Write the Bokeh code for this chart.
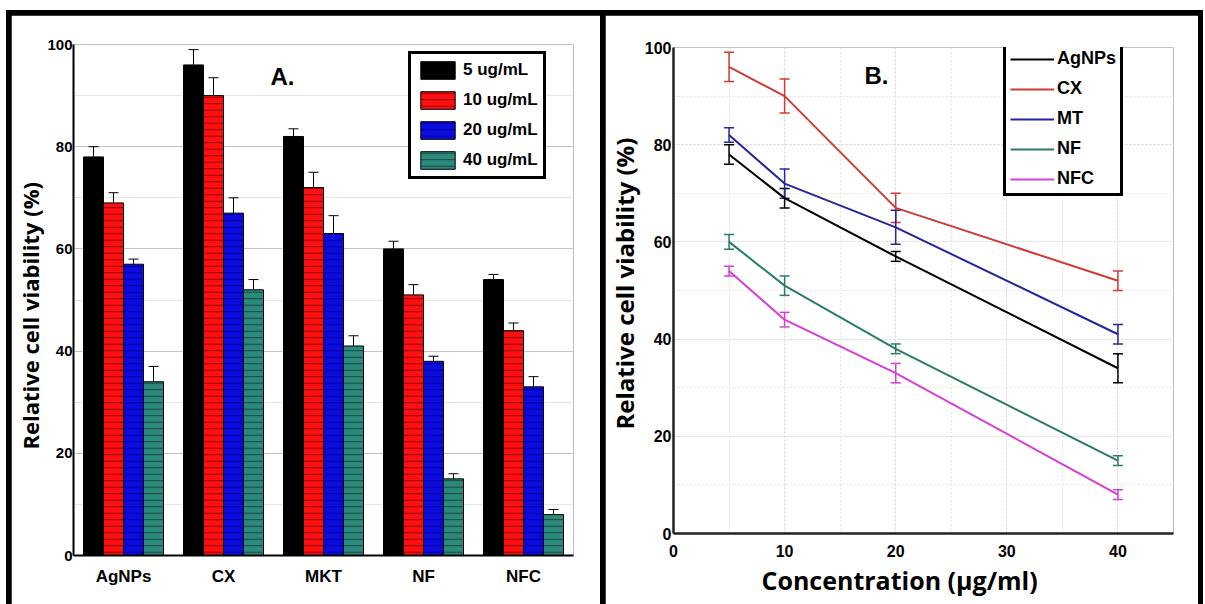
from bokeh.plotting import figure
from bokeh.models import (ColumnDataSource, Whisker, Label, Title, SingleIntervalTicker,
                          FactorRange, Range1d)
from bokeh.transform import dodge
from bokeh.layouts import row, column
from bokeh.embed import file_html
from bokeh.resources import INLINE

# ---------------- data: panel A ----------------
materials = ["AgNPs", "CX", "MKT", "NF", "NFC"]
dose_labels = ["5 ug/mL", "10 ug/mL", "20 ug/mL", "40 ug/mL"]
v5 = [78, 96, 82, 60, 54]
v10 = [69, 90, 72, 51, 44]
v20 = [57, 67, 63, 38, 33]
v40 = [34, 52, 41, 15, 8]
e5 = [2, 3, 1.5, 1.5, 1]
e10 = [2, 3.5, 3, 2, 1.5]
e20 = [1, 3, 3.5, 1, 2]
e40 = [3, 2, 2, 1, 1]

# ---------------- data: panel B ----------------
conc = [5, 10, 20, 40]
series_names = ["AgNPs", "CX", "MT", "NF", "NFC"]
agnps = [78, 69, 57, 34]
cx = [96, 90, 67, 52]
mt = [82, 72, 63, 41]
nf = [60, 51, 38, 15]
nfc = [54, 44, 33, 8]
agnps_err = [2, 2, 1, 3]
cx_err = [3, 3.5, 3, 2]
mt_err = [1.5, 3, 3.5, 2]
nf_err = [1.5, 2, 1, 1]
nfc_err = [1, 1.5, 2, 1]

y_title = "Relative cell viability (%)"
x_title = "Concentration (\u03bcg/ml)"

TICK_FONT = "'Liberation Sans', Arial, sans-serif"
TITLE_FONT = "'Open Sans', 'DejaVu Sans', sans-serif"


def style_axis(ax, size, standoff):
    ax.axis_line_color = "black"
    ax.major_tick_line_color = None
    ax.minor_tick_line_color = None
    ax.major_tick_out = 0
    ax.major_tick_in = 0
    ax.minor_tick_out = 0
    ax.minor_tick_in = 0
    ax.major_label_text_font = TICK_FONT
    ax.major_label_text_font_style = "bold"
    ax.major_label_text_font_size = size
    ax.major_label_text_color = "black"
    ax.major_label_standoff = standoff


def side_title(text, size, align, offset, standoff):
    return Title(text=text, align=align, offset=offset, standoff=standoff,
                 text_font=TITLE_FONT, text_font_style="bold",
                 text_font_size=size, text_color="black")


def style_legend(lg, size):
    lg.border_line_color = "black"
    lg.border_line_alpha = 1
    lg.border_line_width = 3
    lg.background_fill_color = "white"
    lg.background_fill_alpha = 1
    lg.margin = 0
    lg.label_text_font = TICK_FONT
    lg.label_text_font_style = "bold"
    lg.label_text_font_size = size
    lg.label_text_color = "black"


# ================= Panel A =================
p1 = figure(x_range=FactorRange(factors=materials, range_padding=0),
            y_range=Range1d(0, 100), width=589, height=589,
            output_backend="svg", toolbar_location=None,
            min_border_left=62, min_border_right=27,
            min_border_top=29, min_border_bottom=49)
p1.outline_line_color = None
p1.background_fill_color = "white"
p1.border_fill_color = "white"

p1.yaxis.ticker = SingleIntervalTicker(interval=20, num_minor_ticks=2)
p1.ygrid.grid_line_color = "#c4c4c4"
p1.ygrid.grid_line_width = 1
p1.ygrid.minor_grid_line_color = "#e6e6e6"
p1.xgrid.grid_line_color = None

style_axis(p1.yaxis, "15px", 1)
style_axis(p1.xaxis, "17px", 11)
p1.xaxis.axis_line_width = 2
p1.yaxis.axis_line_width = 2

bar_vals = [v5, v10, v20, v40]
bar_errs = [e5, e10, e20, e40]
bar_fill = ["#000000", "#ff1010", "#0c0cdc", "#2b8a7b"]
bar_hatch = [None, "#8a0000", "#0000a0", "#16453e"]
offsets = [-0.3, -0.1, 0.1, 0.3]

for vals, errs, fc, hc, off, lab in zip(bar_vals, bar_errs, bar_fill, bar_hatch, offsets, dose_labels):
    src = ColumnDataSource(dict(cat=materials, val=vals,
                                upper=[v + e for v, e in zip(vals, errs)],
                                lower=[v - e for v, e in zip(vals, errs)]))
    kw = {}
    if hc is not None:
        kw = dict(hatch_pattern="horizontal_line", hatch_color=hc,
                  hatch_scale=6.5, hatch_weight=1)
    p1.vbar(x=dodge("cat", off, range=p1.x_range), top="val", width=0.2,
            source=src, fill_color=fc, line_color="black", line_width=1,
            legend_label=lab, **kw)
    w = Whisker(source=src, base=dodge("cat", off, range=p1.x_range),
                upper="upper", lower="lower", line_color="black", line_width=1)
    w.upper_head.size = 10
    w.lower_head.size = 10
    w.upper_head.line_color = "black"
    w.lower_head.line_color = "black"
    p1.add_layout(w)

lg = p1.legend[0]
style_legend(lg, "17px")
lg.location = (335, 376)
lg.glyph_width = 43
lg.glyph_height = 22
lg.label_height = 22
lg.spacing = 8
lg.padding = 5
lg.label_standoff = 4

p1.add_layout(Label(x=209, y=479, x_units="screen", y_units="screen", text="A.",
                    text_font=TICK_FONT, text_color="black",
                    text_font_style="bold", text_font_size="24px",
                    text_align="center", text_baseline="middle"))
p1.add_layout(side_title(y_title, "22px", "left", 106, 0), "left")

# ================= Panel B =================
p2 = figure(x_range=Range1d(0, 45), y_range=Range1d(0, 100), width=593, height=589,
            output_backend="svg", toolbar_location=None,
            min_border_left=68, min_border_right=25,
            min_border_top=32, min_border_bottom=71)
p2.outline_line_color = None
p2.background_fill_color = "white"
p2.border_fill_color = "white"

p2.xaxis.ticker = SingleIntervalTicker(interval=10, num_minor_ticks=2)
p2.yaxis.ticker = SingleIntervalTicker(interval=20, num_minor_ticks=2)
for g in (p2.xgrid, p2.ygrid):
    g.grid_line_color = "#d8d8d8"
    g.grid_line_dash = "2 2"
    g.grid_line_width = 1
    g.minor_grid_line_color = "#e4e4e4"
    g.minor_grid_line_dash = "2 2"

style_axis(p2.yaxis, "16px", 2)
style_axis(p2.xaxis, "16px", 11)
p2.xaxis.axis_line_color = "#222222"
p2.yaxis.axis_line_color = "#222222"
p2.xaxis.axis_line_width = 2.5
p2.yaxis.axis_line_width = 2.5

line_vals = [agnps, cx, mt, nf, nfc]
line_errs = [agnps_err, cx_err, mt_err, nf_err, nfc_err]
line_cols = ["#000000", "#cf3b34", "#25259c", "#2a7b69", "#d43fd4"]

for vals, errs, col, name in zip(line_vals, line_errs, line_cols, series_names):
    src = ColumnDataSource(dict(x=conc, y=vals,
                                upper=[v + e for v, e in zip(vals, errs)],
                                lower=[v - e for v, e in zip(vals, errs)]))
    p2.line("x", "y", source=src, line_color=col, line_width=2, legend_label=name)
    w = Whisker(source=src, base="x", upper="upper", lower="lower",
                line_color=col, line_width=1.5)
    w.upper_head.size = 10
    w.lower_head.size = 10
    w.upper_head.line_color = col
    w.lower_head.line_color = col
    w.upper_head.line_width = 1.5
    w.lower_head.line_width = 1.5
    p2.add_layout(w)

lg2 = p2.legend[0]
style_legend(lg2, "18px")
lg2.location = (330, 337)
lg2.glyph_width = 44
lg2.glyph_height = 20
lg2.label_height = 20
lg2.spacing = 9
lg2.padding = 4
lg2.label_standoff = 3

p2.add_layout(Label(x=203, y=458, x_units="screen", y_units="screen", text="B.",
                    text_font=TICK_FONT, text_color="black",
                    text_font_style="bold", text_font_size="24px",
                    text_align="center", text_baseline="middle"))
p2.add_layout(side_title(y_title, "24px", "left", 104, 1), "left")
p2.add_layout(side_title(x_title, "25px", "left", 88, 3), "below")

layout = row(column(p1), column(p2), spacing=5,
             styles={"background-color": "black", "padding": "5px 5px 0px 5px",
                     "margin-left": "6px", "margin-top": "10px"})

open("out.html", "w").write(file_html(layout, INLINE))
